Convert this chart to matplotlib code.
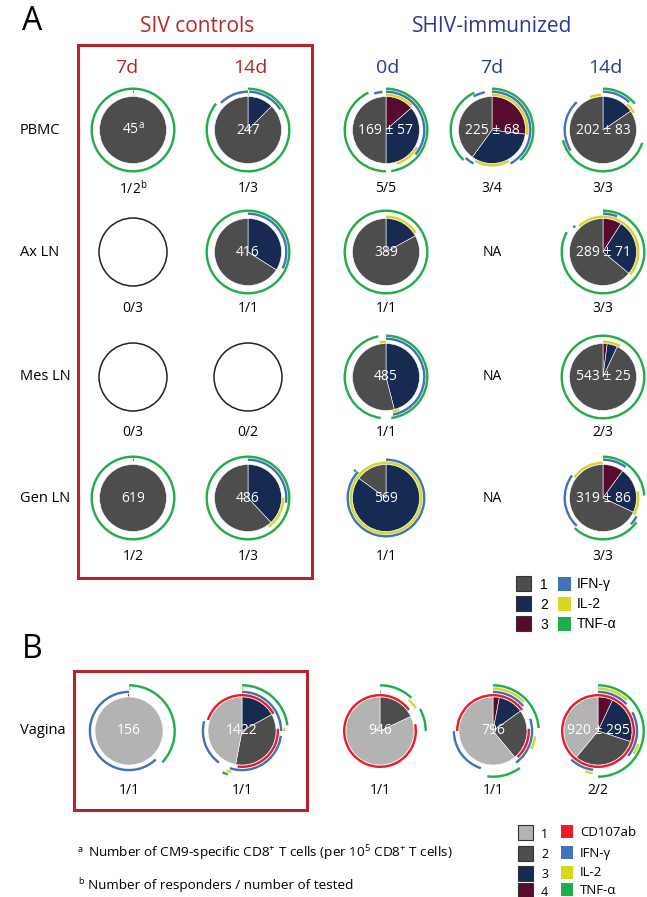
import matplotlib.pyplot as plt
from matplotlib.patches import Wedge, Circle, Rectangle

# ---- data -------------------------------------------------------------
rows_a = ["PBMC", "Ax LN", "Mes LN", "Gen LN"]
cols_a = ["7d", "14d", "0d", "7d", "14d"]

# pie slices A, clockwise from 12 o'clock: (category 3, category 2, category 1)
pbmc_slices = [[0, 0, 1], [0, .125, .875], [.136, .364, .5], [.27, .33, .40], [0, .155, .845]]
axln_slices = [None, [0, .34, .66], [0, .17, .83], "NA", [.09, .27, .64]]
mesln_slices = [None, None, [0, .46, .54], "NA", [.02, .05, .93]]
genln_slices = [[0, 0, 1], [0, .38, .62], [0, .85, .15], "NA", [.10, .22, .68]]

pbmc_values = ["45$^{\\mathrm{a}}$", "247", "169 ± 57", "225 ± 68", "202 ± 83"]
axln_values = ["", "416", "389", "", "289 ± 71"]
mesln_values = ["", "", "485", "", "543 ± 25"]
genln_values = ["619", "486", "569", "", "319 ± 86"]

pbmc_counts = ["1/2$^{\\mathrm{b}}$", "1/3", "5/5", "3/4", "3/3"]
axln_counts = ["0/3", "1/1", "1/1", "", "3/3"]
mesln_counts = ["0/3", "0/2", "1/1", "", "2/3"]
genln_counts = ["1/2", "1/3", "1/1", "", "3/3"]

# arcs: (function, start, end) as fractions clockwise from 12 o'clock
# I = IFN-g, L = IL-2, T = TNF-a, C = CD107ab
pbmc_arcs = [
    [("T", 0, 1), ("I", 0, .004), ("L", .004, .008)],
    [("T", 0, .86), ("I", .875, 1), ("I", .005, .16), ("L", 0, .005)],
    [("L", 0, .13), ("L", .33, .45), ("I", 0, .36), ("I", .95, .985), ("T", 0, .48), ("T", .5, .93)],
    [("L", 0, .27), ("L", .42, .58), ("I", 0, .42), ("I", .58, .62), ("I", .92, .97),
     ("T", 0, .38), ("T", .62, .93)],
    [("I", 0, .12), ("L", .12, .17), ("L", .94, .99), ("I", .66, .88), ("T", 0, .14), ("T", .3, .71)],
]
axln_arcs = [
    [],
    [("I", 0, .32), ("T", 0, 1)],
    [("L", 0, .16), ("T", 0, 1)],
    [],
    [("L", .88, 1), ("L", 0, .36), ("I", 0, .06), ("T", 0, .83), ("I", .86, .87)],
]
mesln_arcs = [
    [],
    [],
    [("I", 0, .47), ("L", .97, 1), ("L", .44, .47), ("T", 0, .48), ("T", .52, .97)],
    [],
    [("L", 0, .08), ("T", 0, 1)],
]
genln_arcs = [
    [("T", 0, 1), ("I", 0, .004)],
    [("I", 0, .27), ("L", .25, .40), ("T", 0, 1)],
    [("L", 0, 1), ("I", 0, .87), ("T", .86, .87)],
    [],
    [("L", .85, 1), ("L", .22, .33), ("I", 0, .10), ("I", .33, .37), ("I", .62, .85),
     ("T", 0, .24), ("T", .35, .62)],
]

# panel B, slices clockwise: (category 4, 3, 2, 1)
vagina_slices = [[0, 0, 0, 1], [0, .17, .36, .47], [0, 0, .18, .82],
                 [.03, .12, .24, .61], [.07, .23, .31, .39]]
vagina_values = ["156", "1422", "946", "796", "920 ± 295"]
vagina_counts = ["1/1", "1/1", "1/1", "1/1", "2/2"]
vagina_arcs = [
    [("I", .38, 1), ("T", 0, .37), ("L", 0, .005), ("C", .995, 1)],
    [("C", .8, 1), ("C", 0, .17), ("C", .24, .52), ("I", 0, .25), ("I", .27, .55), ("I", .6, .79),
     ("L", 0, .005), ("L", .24, .25), ("L", .54, .56), ("T", 0, .23), ("T", .55, .57)],
    [("C", 0, .15), ("C", .22, 1), ("T", 0, .12), ("T", .17, .25), ("L", .12, .16), ("I", 0, .003)],
    [("C", 0, .15), ("C", .24, .38), ("C", .75, 1), ("I", 0, .14), ("I", .2, .4), ("I", .55, .75),
     ("L", 0, .13), ("L", .27, .32), ("T", 0, .24), ("T", .4, .52)],
    [("C", 0, 1), ("I", 0, .13), ("I", .17, .36), ("I", .52, .62), ("L", 0, .12), ("L", .3, .34),
     ("L", .52, .55), ("T", 0, .5)],
]

legend_a_cats = ["1", "2", "3"]
legend_a_funcs = ["IFN-γ", "IL-2", "TNF-α"]
legend_b_cats = ["1", "2", "3", "4"]
legend_b_funcs = ["CD107ab", "IFN-γ", "IL-2", "TNF-α"]

# ---- style ------------------------------------------------------------
GRAY = "#4d4d4d"
LGRAY = "#b3b3b3"
NAVY = "#172a52"
MAROON = "#560c2c"
arc_colors = {"C": "#ec1c24", "I": "#3f74bc", "L": "#d7d721", "T": "#1fae4b"}
RED = "#b5252b"
BLUE = "#2b3990"

plt.rcParams['font.family'] = ['Open Sans', 'DejaVu Sans']
plt.rcParams['mathtext.fontset'] = 'custom'
plt.rcParams['mathtext.rm'] = 'Open Sans'

fig = plt.figure(figsize=(6.47, 8.97), dpi=100)
ax = fig.add_axes([0, 0, 1, 1])
ax.set_xlim(0, 647)
ax.set_ylim(897, 0)
ax.axis('off')


def draw_pie(cx, cy, r, fracs, colors):
    start = 0
    for f, c in zip(fracs, colors):
        if f > 0:
            ax.add_patch(Wedge((cx, cy), r, -90 + 360 * start, -90 + 360 * (start + f),
                               facecolor=c, edgecolor='white', lw=0.4))
        start += f


def draw_arcs(cx, cy, arcs, radii):
    for key, a, b in arcs:
        ax.add_patch(Wedge((cx, cy), radii[key], -90 + 360 * a, -90 + 360 * b,
                           width=2.4, facecolor=arc_colors[key], lw=0))


# ---- panel A ----------------------------------------------------------
ax.text(22, 22, "A", fontsize=23, va='center', ha='left')
ax.text(197, 26, "SIV controls", fontsize=15, color=RED, ha='center', va='center')
ax.text(492, 26, "SHIV-immunized", fontsize=15, color=BLUE, ha='center', va='center')

col_x = [133, 248, 386, 492, 603]
head_x = [127, 250, 388, 492, 605]
row_y = [130, 252, 377, 498]
count_y = [189, 309, 432, 557]
for i, c in enumerate(cols_a):
    ax.text(head_x[i], 68, c, fontsize=14, ha='center', va='center', color=RED if i < 2 else BLUE)

ax.add_patch(Rectangle((78, 45), 234, 533, fill=False, edgecolor=RED, lw=2.2))

radii_a = {"L": 36.5, "I": 39.5, "T": 42.5}
all_slices = [pbmc_slices, axln_slices, mesln_slices, genln_slices]
all_values = [pbmc_values, axln_values, mesln_values, genln_values]
all_counts = [pbmc_counts, axln_counts, mesln_counts, genln_counts]
all_arcs = [pbmc_arcs, axln_arcs, mesln_arcs, genln_arcs]
for ri, name in enumerate(rows_a):
    y = row_y[ri]
    ax.text(20, y, name, fontsize=10.5, ha='left', va='center')
    for ci in range(5):
        x = col_x[ci]
        s = all_slices[ri][ci]
        if isinstance(s, str):
            ax.text(x, y, "NA", fontsize=10, ha='center', va='center')
            continue
        if s is None:
            ax.add_patch(Circle((x, y), 34, fill=False, edgecolor='#222222', lw=1.1))
        else:
            draw_pie(x, y, 33.5, s, [MAROON, NAVY, GRAY])
            draw_arcs(x, y, all_arcs[ri][ci], radii_a)
            ax.text(x, y, all_values[ri][ci], fontsize=10, color='white', ha='center', va='center')
        ax.text(x, count_y[ri], all_counts[ri][ci], fontsize=10, ha='center', va='center')

# legend A
leg_y = [584, 604, 624]
for i in range(3):
    ax.add_patch(Rectangle((516, leg_y[i] - 7.5), 15, 15, facecolor=[GRAY, NAVY, MAROON][i],
                           edgecolor='#333333', lw=0.8))
    ax.text(540, leg_y[i] + 1, legend_a_cats[i], fontsize=10, ha='left', va='center',
            family=['Liberation Sans', 'DejaVu Sans'])
    ax.add_patch(Rectangle((558, leg_y[i] - 7), 13, 14, facecolor=arc_colors["ILT"[i]], lw=0))
    ax.text(577, leg_y[i], legend_a_funcs[i], fontsize=10, ha='left', va='center',
            family=['Liberation Sans', 'DejaVu Sans'])

# ---- panel B ----------------------------------------------------------
ax.text(22, 650, "B", fontsize=23, va='center', ha='left')
ax.add_patch(Rectangle((74, 671), 233, 139, fill=False, edgecolor=RED, lw=2.2))
ax.text(20, 731, "Vagina", fontsize=10.5, ha='left', va='center')

col_xb = [129, 242, 380, 493, 598]
radii_b = {"C": 37, "I": 40.3, "L": 43.6, "T": 46.9}
for ci in range(5):
    x = col_xb[ci]
    draw_pie(x, 731, 34, vagina_slices[ci], [MAROON, NAVY, GRAY, LGRAY])
    draw_arcs(x, 731, vagina_arcs[ci], radii_b)
    ax.text(x, 731, vagina_values[ci], fontsize=10, color='white', ha='center', va='center')
    ax.text(x, 790, vagina_counts[ci], fontsize=10, ha='center', va='center')

# footnotes
ax.text(78, 849, "a", fontsize=6.5, ha='left', va='center')
ax.text(88, 853, "Number of CM9-specific CD8$^{+}$ T cells (per 10$^{5}$ CD8$^{+}$ T cells)",
        fontsize=9.7, ha='left', va='center')
ax.text(78, 882, "b", fontsize=6.5, ha='left', va='center')
ax.text(88, 886, "Number of responders / number of tested", fontsize=9.7, ha='left', va='center')

# legend B
leg_yb = [833, 854, 874, 891]
for i in range(4):
    ax.add_patch(Rectangle((518, leg_yb[i] - 7.5), 15, 15, facecolor=[LGRAY, GRAY, NAVY, MAROON][i],
                           edgecolor='#333333', lw=0.8))
    ax.text(541, leg_yb[i] + 1, legend_b_cats[i], fontsize=9, ha='left', va='center')
    ax.add_patch(Rectangle((561, leg_yb[i] - 7.5), 12, 13, facecolor=arc_colors["CILT"[i]], lw=0))
    ax.text(580, leg_yb[i] - 1, legend_b_funcs[i], fontsize=9.5, ha='left', va='center')

fig.savefig("out.png", dpi=100)
